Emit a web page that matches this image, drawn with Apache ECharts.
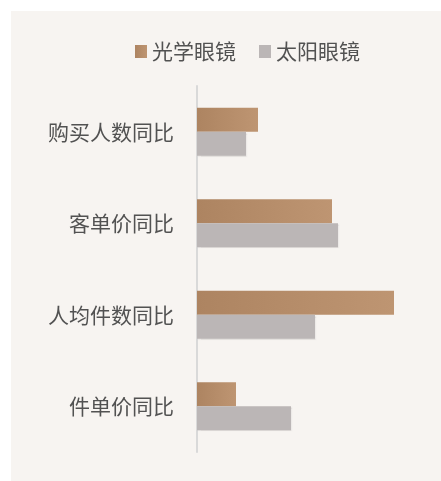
<!DOCTYPE html>
<html><head><meta charset="utf-8">
<script src="https://cdn.jsdelivr.net/npm/echarts@6/dist/echarts.min.js"></script>
<style>html,body{margin:0;padding:0;background:#fff;}#c{width:441px;height:481px;}</style>
</head><body><div id="c"></div>
<script>
const categories = ['购买人数同比', '客单价同比', '人均件数同比', '件单价同比'];
const seriesNames = ['光学眼镜', '太阳眼镜'];
const opticalValues = [30.5, 67.5, 98.5, 19.5];
const sunValues = [24.5, 70.5, 59, 47];

const chart = echarts.init(document.getElementById('c'), null, {renderer: 'canvas'});
const font = '"Noto Sans CJK SC", "Noto Sans", sans-serif';
chart.setOption({
  animation: false,
  backgroundColor: 'transparent',
  graphic: [{type: 'rect', z: -10, left: 11, top: 11, shape: {width: 430, height: 470}, style: {fill: '#f7f4f1'}}],
  legend: {
    data: seriesNames, left: 135, top: 41, padding: 0,
    icon: 'rect', itemWidth: 12, itemHeight: 13, itemGap: 23,
    textStyle: {fontSize: 21, color: '#525252', fontFamily: font, padding: [0, 0, 0, 0]}
  },
  grid: {left: 197, right: 24, top: 86, bottom: 29, containLabel: false},
  xAxis: {type: 'value', min: 0, max: 110, show: false},
  yAxis: {
    type: 'category', data: categories, inverse: true,
    axisLine: {show: true, lineStyle: {color: '#d9d9d9', width: 2}},
    axisTick: {show: false},
    axisLabel: {fontSize: 21, color: '#525252', fontFamily: font, margin: 23}
  },
  series: [
    {name: seriesNames[0], type: 'bar', data: opticalValues, barWidth: 24, barGap: '0%',
     itemStyle: {color: new echarts.graphic.LinearGradient(0, 0, 1, 0, [{offset: 0, color: '#ad8461'}, {offset: 1, color: '#be9572'}])}},
    {name: seriesNames[1], type: 'bar', data: sunValues, barWidth: 24,
     itemStyle: {color: '#bbb6b6', shadowColor: 'rgba(0,0,0,0.08)', shadowOffsetX: 1, shadowOffsetY: 1, shadowBlur: 1}}
  ]
});
</script></body></html>
